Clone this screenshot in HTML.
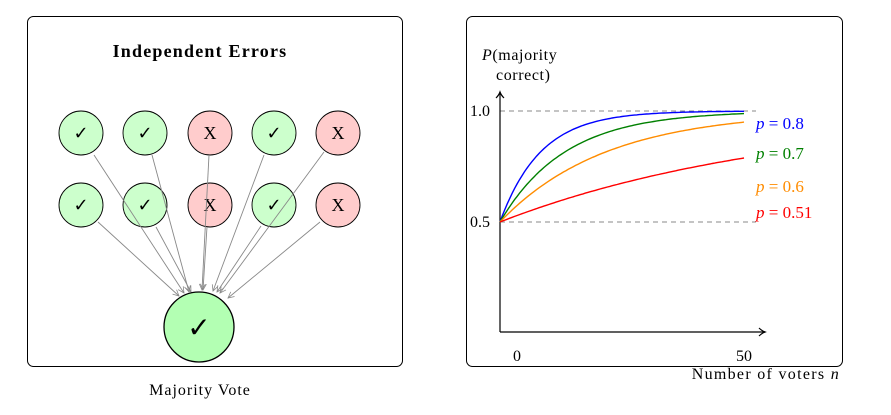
<!DOCTYPE html>
<html><head><meta charset="utf-8"><style>
html,body{margin:0;padding:0;background:#fff;}
svg{display:block;font-family:"Liberation Serif","DejaVu Serif",serif;}
</style></head><body>
<svg id="s" width="891" height="415" viewBox="0 0 891 415" xmlns="http://www.w3.org/2000/svg">
<defs>
<marker id="a" markerWidth="8" markerHeight="8" refX="7" refY="4" orient="auto" markerUnits="userSpaceOnUse">
<path d="M1,1 L7,4 L1,7" fill="none" stroke="#888" stroke-width="0.8"/></marker>
<marker id="b" markerWidth="10" markerHeight="10" refX="8" refY="5" orient="auto" markerUnits="userSpaceOnUse">
<path d="M2,1 Q5,4 8,5 Q5,6 2,9" fill="none" stroke="#000" stroke-width="1.2"/></marker>
</defs>
<rect x="27.5" y="16.5" width="375" height="350" rx="6" fill="none" stroke="#000" stroke-width="1"/>
<rect x="466.5" y="16.5" width="376" height="350" rx="6" fill="none" stroke="#000" stroke-width="1"/>
<text x="200" y="57" text-anchor="middle" font-weight="bold" font-size="18" letter-spacing="1.2">Independent Errors</text>
<text x="200" y="395" text-anchor="middle" font-size="16" letter-spacing="1">Majority Vote</text>
<g id="nodes" stroke="#000" stroke-width="0.9" font-size="18" text-anchor="middle"></g>
<g stroke="#888" stroke-width="0.9" marker-end="url(#a)">
<line x1="94" y1="155" x2="184" y2="293"/>
<line x1="152" y1="155" x2="189" y2="292"/>
<line x1="209" y1="155" x2="202" y2="290"/>
<line x1="264" y1="155" x2="213" y2="291"/>
<line x1="324" y1="152" x2="220" y2="293"/>
<line x1="98" y1="222" x2="179" y2="296"/>
<line x1="156" y1="227" x2="191" y2="292"/>
<line x1="207" y1="227" x2="203" y2="290"/>
<line x1="261" y1="226" x2="217" y2="292"/>
<line x1="320" y1="222" x2="228" y2="298"/>
</g>
<circle cx="199" cy="327" r="35" fill="#b3ffb3" stroke="#000" stroke-width="1.3"/>
<text x="199" y="337" text-anchor="middle" font-size="28" font-weight="bold" font-family="DejaVu Sans,sans-serif">✓</text>
<line x1="500" y1="111" x2="756" y2="111" stroke="#888" stroke-dasharray="5,4" stroke-width="0.9"/>
<line x1="500" y1="222" x2="756" y2="222" stroke="#888" stroke-dasharray="5,4" stroke-width="0.9"/>
<line x1="500" y1="332" x2="500" y2="92" stroke="#000" stroke-width="1.2" marker-end="url(#b)"/>
<line x1="500" y1="332" x2="765" y2="332" stroke="#000" stroke-width="1.2" marker-end="url(#b)"/>
<g id="curves" fill="none" stroke-width="1.4"></g>
<g font-size="16">
<text x="482" y="60" letter-spacing="0.6"><tspan font-style="italic">P</tspan>(majority</text>
<text x="496" y="80" letter-spacing="0.6">correct)</text>
<text x="490" y="116" text-anchor="end">1.0</text>
<text x="490" y="227" text-anchor="end">0.5</text>
<text x="517" y="361" text-anchor="middle">0</text>
<text x="744" y="361" text-anchor="middle">50</text>
<text x="840" y="379" text-anchor="end" letter-spacing="1.3">Number of voters <tspan font-style="italic">n</tspan></text>
<text x="756" y="129" fill="#0000ff" font-size="17"><tspan font-style="italic">p</tspan> = 0.8</text>
<text x="756" y="159" fill="#008000" font-size="17"><tspan font-style="italic">p</tspan> = 0.7</text>
<text x="756" y="192" fill="#ff8c00" font-size="17"><tspan font-style="italic">p</tspan> = 0.6</text>
<text x="756" y="218" fill="#ff0000" font-size="17"><tspan font-style="italic">p</tspan> = 0.51</text>
</g>
</svg>
<script>
var NS="http://www.w3.org/2000/svg";
var g=document.getElementById("nodes");
var xs=[81,145,210,274,338],rows=[[1,1,0,1,0],[1,1,0,1,0]],ys=[133,205];
rows.forEach(function(r,j){r.forEach(function(ok,i){
var c=document.createElementNS(NS,"circle");c.setAttribute("cx",xs[i]);c.setAttribute("cy",ys[j]);c.setAttribute("r",22);
c.setAttribute("fill",ok?"#ccffcc":"#ffcccc");g.appendChild(c);
var t=document.createElementNS(NS,"text");t.setAttribute("x",xs[i]);t.setAttribute("y",ys[j]+6);t.setAttribute("stroke","none");
if(ok){t.textContent="✓";t.setAttribute("font-family","DejaVu Sans,sans-serif");t.setAttribute("font-weight","bold");}else{t.textContent="X";}
g.appendChild(t);});});
var cg=document.getElementById("curves");
[[0.12,"#0000ff"],[0.075,"#008000"],[0.046,"#ff8c00"],[0.0172,"#ff0000"]].forEach(function(c){
var d="";for(var n=0;n<=50;n+=0.5){var P=1-0.5*Math.exp(-c[0]*n);var x=500+n*244/50,y=222-(P-0.5)*222;d+=(n?"L":"M")+x.toFixed(1)+","+y.toFixed(1);}
var p=document.createElementNS(NS,"path");p.setAttribute("d",d);p.setAttribute("stroke",c[1]);cg.appendChild(p);});
</script>
</body></html>
